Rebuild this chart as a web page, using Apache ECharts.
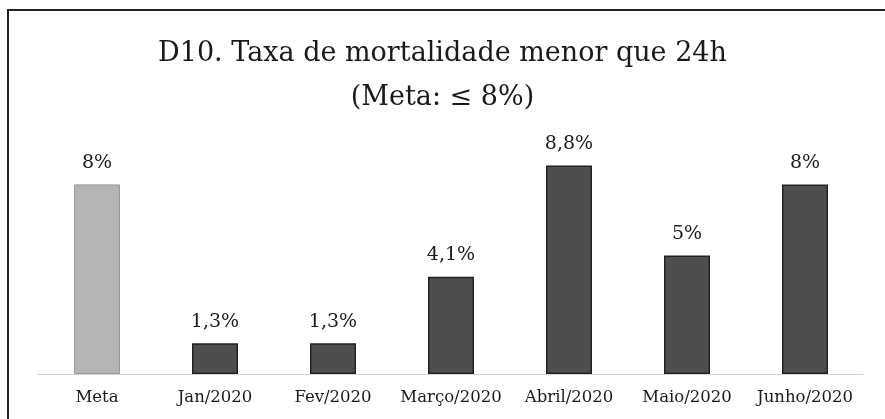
<!DOCTYPE html>
<html>
<head>
<meta charset="utf-8">
<script src="https://cdn.jsdelivr.net/npm/echarts@6/dist/echarts.min.js"></script>
<style>
html,body{margin:0;padding:0;background:#fff;}
#chart{width:885px;height:419px;}
</style>
</head>
<body>
<div id="chart"></div>
<script>
const categories = ['Meta', 'Jan/2020', 'Fev/2020', 'Março/2020', 'Abril/2020', 'Maio/2020', 'Junho/2020'];
const values = [8, 1.3, 1.3, 4.1, 8.8, 5, 8];
const titleText = 'D10. Taxa de mortalidade menor que 24h\n(Meta: ≤ 8%)';

const serif = '"DejaVu Serif", "Liberation Serif", serif';
const chart = echarts.init(document.getElementById('chart'));
chart.setOption({
  backgroundColor: '#fff',
  animation: false,
  title: {
    text: titleText,
    left: 'center',
    top: 27,
    textStyle: { fontFamily: serif, fontSize: 27, fontWeight: 'normal', color: '#1a1a1a', lineHeight: 44, align: 'center' }
  },
  graphic: [
    { type: 'line', shape: { x1: 8, y1: 10, x2: 885, y2: 10 }, style: { stroke: '#222', lineWidth: 2 } },
    { type: 'line', shape: { x1: 8, y1: 9, x2: 8, y2: 419 }, style: { stroke: '#222', lineWidth: 2 } }
  ],
  grid: { left: 38, right: 21, top: 137, bottom: 45 },
  xAxis: {
    type: 'category',
    data: categories,
    axisTick: { show: false },
    axisLine: { show: true, lineStyle: { color: '#c8c8c8', type: 'dotted', width: 1 } },
    axisLabel: { fontFamily: serif, fontSize: 16.5, color: '#1a1a1a', margin: 15, interval: 0 }
  },
  yAxis: {
    type: 'value', min: 0, max: 10, show: false, splitLine: { show: false }
  },
  series: [{
    type: 'bar',
    barWidth: 46,
    data: values.map((v, i) => ({
      value: v,
      itemStyle: i === 0
        ? { color: '#b4b4b4', borderColor: '#9a9a9a', borderWidth: 1 }
        : { color: '#4e4e4e', borderColor: '#222', borderWidth: 1.5 }
    })),
    label: {
      show: true,
      position: 'top',
      distance: 12,
      fontFamily: serif,
      fontSize: 19,
      color: '#1a1a1a',
      formatter: p => String(p.value).replace('.', ',') + '%'
    }
  }]
});
</script>
</body>
</html>
